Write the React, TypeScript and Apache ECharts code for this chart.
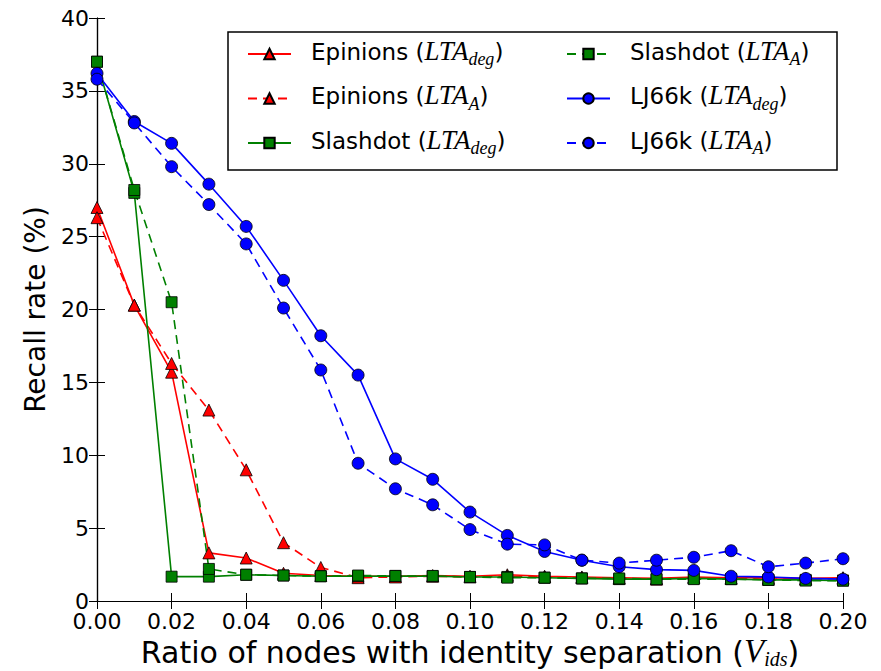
import React, { useEffect, useRef } from "react";
import * as echarts from "echarts";

const xs = [0, 0.01, 0.02, 0.03, 0.04, 0.05, 0.06, 0.07, 0.08, 0.09, 0.1, 0.11, 0.12, 0.13, 0.14, 0.15, 0.16, 0.17, 0.18, 0.19, 0.2];

const epinionsDeg = [27.0, 20.3, 15.7, 3.3, 2.95, 1.9, 1.75, 1.7, 1.7, 1.75, 1.7, 1.8, 1.7, 1.65, 1.6, 1.55, 1.65, 1.6, 1.6, 1.55, 1.6];
const epinionsA = [26.3, 20.3, 16.3, 13.1, 9.0, 4.0, 2.3, 1.6, 1.65, 1.7, 1.65, 1.7, 1.65, 1.6, 1.55, 1.5, 1.6, 1.55, 1.5, 1.5, 1.55];
const slashdotDeg = [37.0, 28.0, 1.67, 1.67, 1.8, 1.75, 1.7, 1.7, 1.72, 1.7, 1.65, 1.65, 1.6, 1.55, 1.5, 1.5, 1.55, 1.5, 1.45, 1.45, 1.4];
const slashdotA = [37.0, 28.2, 20.5, 2.2, 1.8, 1.75, 1.7, 1.75, 1.72, 1.72, 1.65, 1.6, 1.6, 1.55, 1.55, 1.5, 1.5, 1.5, 1.45, 1.4, 1.4];
const lj66kDeg = [36.2, 32.9, 31.4, 28.6, 25.7, 22.0, 18.2, 15.5, 9.75, 8.35, 6.1, 4.5, 3.4, 2.8, 2.35, 2.15, 2.1, 1.7, 1.65, 1.55, 1.5];
const lj66kA = [35.8, 32.8, 29.8, 27.2, 24.5, 20.1, 15.85, 9.45, 7.7, 6.6, 4.9, 3.9, 3.85, 2.8, 2.6, 2.8, 3.0, 3.45, 2.35, 2.6, 2.9];

const seriesDefs = [
  { name: "Epinions (LTA_deg)", label: "Epinions", sub: "deg", data: epinionsDeg, color: "#ff0000", symbol: "triangle", dashed: false },
  { name: "Epinions (LTA_A)", label: "Epinions", sub: "A", data: epinionsA, color: "#ff0000", symbol: "triangle", dashed: true },
  { name: "Slashdot (LTA_deg)", label: "Slashdot", sub: "deg", data: slashdotDeg, color: "#008000", symbol: "rect", dashed: false },
  { name: "Slashdot (LTA_A)", label: "Slashdot", sub: "A", data: slashdotA, color: "#008000", symbol: "rect", dashed: true },
  { name: "LJ66k (LTA_deg)", label: "LJ66k", sub: "deg", data: lj66kDeg, color: "#0000ff", symbol: "circle", dashed: false },
  { name: "LJ66k (LTA_A)", label: "LJ66k", sub: "A", data: lj66kA, color: "#0000ff", symbol: "circle", dashed: true },
];

const SANS = "DejaVu Sans";
const SERIF = "Liberation Serif";

export default function App() {
  const ref = useRef<HTMLDivElement>(null);
  useEffect(() => {
    if (!ref.current) return;
    const chart = echarts.init(ref.current, null, { renderer: "svg" });
    const richStyles = {
      n: { fontFamily: SANS, fontSize: 23, color: "#000", verticalAlign: "top", lineHeight: 28 },
      it: { fontFamily: SERIF, fontStyle: "italic", fontSize: 27, color: "#000", verticalAlign: "top", lineHeight: 28, padding: [-3, 0, 0, 0] },
      sub: { fontFamily: SERIF, fontStyle: "italic", fontSize: 18, color: "#000", verticalAlign: "top", lineHeight: 28, padding: [10, 0, 0, 0] },
    };
    const fmt = (name: string) => {
      const d = seriesDefs.find((s) => s.name === name)!;
      return `{n|${d.label} (}{it|LTA}{sub|${d.sub}}{n|)}`;
    };
    const legendCommon = {
      orient: "vertical",
      itemWidth: 43,
      itemHeight: 13,
      itemGap: 13.5,
      formatter: fmt,
      textStyle: { rich: richStyles, padding: [0, 0, 0, 15] },
      top: 32,
      z: 20,
    };
    const axisLine = { show: true, lineStyle: { color: "#000", width: 1.2 } };
    const tickStyle = { show: true, inside: true, length: 8, lineStyle: { color: "#000", width: 1 } };
    chart.setOption({
      animation: false,
      backgroundColor: "#fff",
      grid: { left: 97, right: 38, top: 18, bottom: 70, show: false, containLabel: false, outerBoundsMode: "none" },
      legend: [
        { ...legendCommon, left: 242, data: seriesDefs.slice(0, 3).map((s) => s.name) },
        { ...legendCommon, left: 561, data: seriesDefs.slice(3).map((s) => s.name) },
      ],
      graphic: [
        {
          type: "rect",
          shape: { x: 228, y: 32, width: 609, height: 138 },
          style: { fill: "#fff", stroke: "#000", lineWidth: 1.5 },
          z: 3,
        },
      ],
      xAxis: [
        {
          type: "value",
          min: 0,
          max: 0.2,
          interval: 0.02,
          position: "bottom",
          axisLine,
          axisTick: tickStyle,
          splitLine: { show: false },
          axisLabel: {
            fontFamily: SANS,
            fontSize: 22,
            lineHeight: 18,
            color: "#000",
            margin: 11,
            formatter: (v: number) => v.toFixed(2),
          },
          name: "{n|Ratio of nodes with identity separation (}{it|V}{sub|ids}{n|)}",
          nameLocation: "middle",
          nameGap: 36,
          nameMoveOverlap: false,
          nameTextStyle: {
            rich: {
              n: { fontFamily: SANS, fontSize: 30, color: "#000", verticalAlign: "top", lineHeight: 30 },
              it: { fontFamily: SERIF, fontStyle: "italic", fontSize: 33, color: "#000", verticalAlign: "top", lineHeight: 30, padding: [-3, 0, 0, 0] },
              sub: { fontFamily: SERIF, fontStyle: "italic", fontSize: 20, color: "#000", verticalAlign: "top", lineHeight: 16, padding: [12, 0, 0, 0] },
            },
          },
        },
        {
          type: "value",
          min: 0,
          max: 0.2,
          interval: 0.02,
          position: "top",
          axisLine,
          axisTick: tickStyle,
          axisLabel: { show: false },
          splitLine: { show: false },
        },
      ],
      yAxis: [
        {
          type: "value",
          min: 0,
          max: 40,
          interval: 5,
          position: "left",
          axisLine,
          axisTick: tickStyle,
          splitLine: { show: false },
          axisLabel: { fontFamily: SANS, fontSize: 22, lineHeight: 16, color: "#000", margin: 8 },
          name: "Recall rate (%)",
          nameLocation: "middle",
          nameGap: 48,
          nameMoveOverlap: false,
          nameTextStyle: { fontFamily: SANS, fontSize: 28, color: "#000" },
        },
        {
          type: "value",
          min: 0,
          max: 40,
          interval: 5,
          position: "right",
          axisLine,
          axisTick: tickStyle,
          axisLabel: { show: false },
          splitLine: { show: false },
        },
      ],
      series: seriesDefs.map((s) => ({
        name: s.name,
        type: "line",
        xAxisIndex: 0,
        yAxisIndex: 0,
        data: xs.map((x, i) => [x, s.data[i]]),
        symbol: s.symbol,
        symbolSize: s.symbol === "rect" ? 11 : 12,
        showAllSymbol: true,
        clip: false,
        lineStyle: { color: s.color, width: 1.6, type: s.dashed ? [9, 6] : "solid" },
        itemStyle: { color: s.color, borderColor: "#000", borderWidth: 0.8 },
        emphasis: { disabled: true },
      })),
    });
    return () => chart.dispose();
  }, []);
  return <div ref={ref} style={{ position: "absolute", left: 0, top: 0, width: 881, height: 671 }} />;
}
